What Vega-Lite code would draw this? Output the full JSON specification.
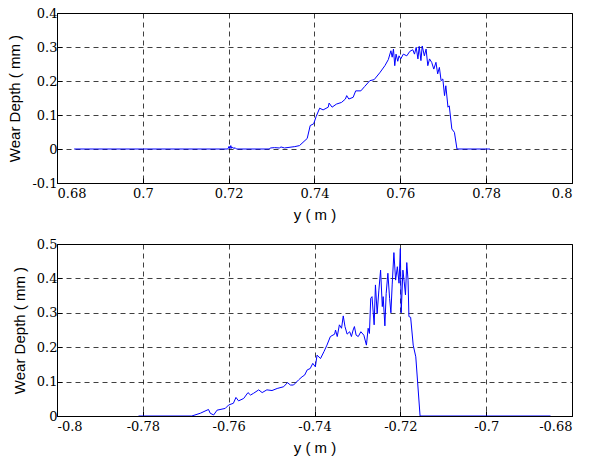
{
  "$schema": "https://vega.github.io/schema/vega-lite/v6.json",
  "background": "white",
  "padding": {"left": 7, "top": 6, "right": 5, "bottom": 0},
  "spacing": 14,
  "config": {
    "locale": {
      "number": {"decimal": ".", "thousands": ",", "grouping": [3], "currency": ["$", ""], "minus": "-"}
    },
    "view": {"stroke": "#000", "strokeWidth": 1},
    "axis": {
      "domainColor": "#000",
      "gridColor": "#000",
      "gridOpacity": 0.75,
      "gridDash": [5, 4],
      "gridWidth": 1,
      "tickColor": "#000",
      "tickSize": -5,
      "titleFont": "Liberation Sans",
      "titleFontSize": 15,
      "titleFontWeight": "normal",
      "titleColor": "#000"
    }
  },
  "vconcat": [
    {
      "width": 515,
      "height": 170,
      "data": {
        "values": [
          {"y": 0.684, "d": 0}, {"y": 0.7, "d": 0}, {"y": 0.7198, "d": 0},
          {"y": 0.7201, "d": 0.008}, {"y": 0.7203, "d": 0.001}, {"y": 0.7205, "d": 0.01},
          {"y": 0.7207, "d": 0.002}, {"y": 0.7209, "d": 0.006}, {"y": 0.7212, "d": 0.001},
          {"y": 0.7215, "d": 0.004}, {"y": 0.7218, "d": 0}, {"y": 0.7295, "d": 0},
          {"y": 0.7297, "d": 0.003}, {"y": 0.7307, "d": 0.004}, {"y": 0.7318, "d": 0.003},
          {"y": 0.7322, "d": 0.006}, {"y": 0.7330, "d": 0.003}, {"y": 0.7354, "d": 0.007},
          {"y": 0.7365, "d": 0.01}, {"y": 0.7383, "d": 0.031}, {"y": 0.739, "d": 0.069},
          {"y": 0.7398, "d": 0.074}, {"y": 0.7404, "d": 0.096}, {"y": 0.7412, "d": 0.12},
          {"y": 0.742, "d": 0.115}, {"y": 0.7432, "d": 0.123}, {"y": 0.7434, "d": 0.135},
          {"y": 0.7441, "d": 0.123}, {"y": 0.7451, "d": 0.132}, {"y": 0.7463, "d": 0.137},
          {"y": 0.7472, "d": 0.147}, {"y": 0.7475, "d": 0.157}, {"y": 0.748, "d": 0.147},
          {"y": 0.749, "d": 0.152}, {"y": 0.7496, "d": 0.171}, {"y": 0.7508, "d": 0.171},
          {"y": 0.7517, "d": 0.184}, {"y": 0.7529, "d": 0.201}, {"y": 0.7539, "d": 0.204},
          {"y": 0.7552, "d": 0.224}, {"y": 0.7564, "d": 0.245}, {"y": 0.7572, "d": 0.263},
          {"y": 0.7578, "d": 0.289}, {"y": 0.7581, "d": 0.27}, {"y": 0.7584, "d": 0.294},
          {"y": 0.7587, "d": 0.245}, {"y": 0.759, "d": 0.279}, {"y": 0.7594, "d": 0.258},
          {"y": 0.7597, "d": 0.274}, {"y": 0.7601, "d": 0.265}, {"y": 0.7607, "d": 0.279},
          {"y": 0.7615, "d": 0.274}, {"y": 0.7622, "d": 0.287}, {"y": 0.7629, "d": 0.292},
          {"y": 0.7633, "d": 0.279}, {"y": 0.7637, "d": 0.299}, {"y": 0.7641, "d": 0.265},
          {"y": 0.7644, "d": 0.302}, {"y": 0.7648, "d": 0.26}, {"y": 0.7651, "d": 0.303},
          {"y": 0.7656, "d": 0.274}, {"y": 0.766, "d": 0.294}, {"y": 0.7664, "d": 0.245},
          {"y": 0.7668, "d": 0.265}, {"y": 0.7673, "d": 0.255}, {"y": 0.7678, "d": 0.235},
          {"y": 0.7683, "d": 0.255}, {"y": 0.7687, "d": 0.221}, {"y": 0.7691, "d": 0.24},
          {"y": 0.7695, "d": 0.201}, {"y": 0.7699, "d": 0.206}, {"y": 0.7703, "d": 0.157},
          {"y": 0.7706, "d": 0.186}, {"y": 0.7711, "d": 0.123}, {"y": 0.7714, "d": 0.127},
          {"y": 0.772, "d": 0.059}, {"y": 0.7726, "d": 0.049}, {"y": 0.7732, "d": 0},
          {"y": 0.7809, "d": 0}
        ]
      },
      "mark": {"type": "line", "color": "#0000ff", "strokeWidth": 1, "clip": true},
      "encoding": {
        "x": {
          "field": "y", "type": "quantitative", "title": "y ( m )",
          "scale": {"domain": [0.68, 0.8], "nice": false, "zero": false},
          "axis": {"values": [0.68, 0.7, 0.72, 0.74, 0.76, 0.78, 0.8], "format": "~g",
                   "labelFont": "DejaVu Serif", "labelFontSize": 13, "labelColor": "#000",
                   "labelPadding": 9, "titlePadding": 7}
        },
        "y": {
          "field": "d", "type": "quantitative", "title": "Wear Depth ( mm )",
          "scale": {"domain": [-0.1, 0.4], "nice": false, "zero": false},
          "axis": {"values": [-0.1, 0, 0.1, 0.2, 0.3, 0.4], "format": "~g",
                   "labelFont": "DejaVu Serif", "labelFontSize": 13, "labelColor": "#000",
                   "labelPadding": 5, "titlePadding": 9}
        }
      }
    },
    {
      "width": 515,
      "height": 172,
      "data": {
        "values": [
          {"y": -0.781, "d": 0}, {"y": -0.7686, "d": 0}, {"y": -0.7666, "d": 0.008},
          {"y": -0.7647, "d": 0.019}, {"y": -0.7643, "d": 0.008}, {"y": -0.7635, "d": 0.003},
          {"y": -0.7627, "d": 0.017}, {"y": -0.7608, "d": 0.022}, {"y": -0.76, "d": 0.032},
          {"y": -0.7589, "d": 0.037}, {"y": -0.7583, "d": 0.054}, {"y": -0.7577, "d": 0.044},
          {"y": -0.7565, "d": 0.051}, {"y": -0.7555, "d": 0.068}, {"y": -0.7549, "d": 0.061},
          {"y": -0.7542, "d": 0.066}, {"y": -0.753, "d": 0.076}, {"y": -0.7522, "d": 0.068},
          {"y": -0.7511, "d": 0.076}, {"y": -0.7499, "d": 0.074}, {"y": -0.7487, "d": 0.08},
          {"y": -0.7472, "d": 0.085}, {"y": -0.7463, "d": 0.097}, {"y": -0.7456, "d": 0.09},
          {"y": -0.7449, "d": 0.09}, {"y": -0.7437, "d": 0.105}, {"y": -0.7429, "d": 0.114},
          {"y": -0.7423, "d": 0.119}, {"y": -0.7417, "d": 0.134}, {"y": -0.741, "d": 0.138},
          {"y": -0.7404, "d": 0.153}, {"y": -0.7398, "d": 0.143}, {"y": -0.7394, "d": 0.177},
          {"y": -0.7386, "d": 0.167}, {"y": -0.7378, "d": 0.187}, {"y": -0.7371, "d": 0.206},
          {"y": -0.7363, "d": 0.231}, {"y": -0.7353, "d": 0.238}, {"y": -0.7351, "d": 0.25},
          {"y": -0.7347, "d": 0.231}, {"y": -0.7342, "d": 0.265}, {"y": -0.7337, "d": 0.255},
          {"y": -0.7333, "d": 0.291}, {"y": -0.7329, "d": 0.26}, {"y": -0.7324, "d": 0.238},
          {"y": -0.7318, "d": 0.245}, {"y": -0.7314, "d": 0.231}, {"y": -0.731, "d": 0.25},
          {"y": -0.7307, "d": 0.26}, {"y": -0.7303, "d": 0.235}, {"y": -0.7298, "d": 0.231},
          {"y": -0.7292, "d": 0.245}, {"y": -0.7285, "d": 0.235}, {"y": -0.7279, "d": 0.206},
          {"y": -0.7275, "d": 0.255}, {"y": -0.7272, "d": 0.24}, {"y": -0.7269, "d": 0.342},
          {"y": -0.7266, "d": 0.347}, {"y": -0.7261, "d": 0.265}, {"y": -0.7258, "d": 0.381},
          {"y": -0.7254, "d": 0.298}, {"y": -0.725, "d": 0.366}, {"y": -0.7246, "d": 0.424},
          {"y": -0.7242, "d": 0.318}, {"y": -0.724, "d": 0.347}, {"y": -0.7236, "d": 0.262},
          {"y": -0.7233, "d": 0.356}, {"y": -0.7229, "d": 0.415}, {"y": -0.7225, "d": 0.342},
          {"y": -0.7222, "d": 0.3}, {"y": -0.7219, "d": 0.381}, {"y": -0.7215, "d": 0.475},
          {"y": -0.7211, "d": 0.395}, {"y": -0.7207, "d": 0.434}, {"y": -0.7203, "d": 0.386},
          {"y": -0.72, "d": 0.487}, {"y": -0.7198, "d": 0.3}, {"y": -0.7194, "d": 0.424},
          {"y": -0.7191, "d": 0.39}, {"y": -0.7188, "d": 0.352}, {"y": -0.7185, "d": 0.446},
          {"y": -0.7182, "d": 0.395}, {"y": -0.718, "d": 0.289}, {"y": -0.7176, "d": 0.287},
          {"y": -0.717, "d": 0.206}, {"y": -0.7164, "d": 0.172}, {"y": -0.7154, "d": 0},
          {"y": -0.685, "d": 0}
        ]
      },
      "mark": {"type": "line", "color": "#0000ff", "strokeWidth": 1, "clip": true},
      "encoding": {
        "x": {
          "field": "y", "type": "quantitative", "title": "y ( m )",
          "scale": {"domain": [-0.8, -0.68], "nice": false, "zero": false},
          "axis": {"values": [-0.8, -0.78, -0.76, -0.74, -0.72, -0.7, -0.68], "format": "~g",
                   "labelFont": "DejaVu Serif", "labelFontSize": 13, "labelColor": "#000",
                   "labelPadding": 9, "titlePadding": 7}
        },
        "y": {
          "field": "d", "type": "quantitative", "title": "Wear Depth ( mm )",
          "scale": {"domain": [0, 0.5], "nice": false, "zero": false},
          "axis": {"values": [0, 0.1, 0.2, 0.3, 0.4, 0.5], "format": "~g",
                   "labelFont": "DejaVu Serif", "labelFontSize": 13, "labelColor": "#000",
                   "labelPadding": 5, "titlePadding": 9}
        }
      }
    }
  ]
}
